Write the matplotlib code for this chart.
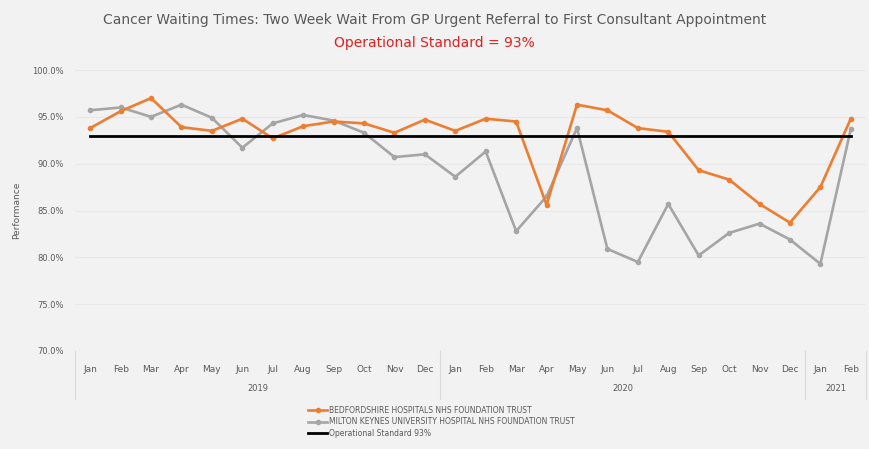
import numpy as np
import matplotlib.pyplot as plt

months = ["Jan", "Feb", "Mar", "Apr", "May", "Jun", "Jul", "Aug", "Sep", "Oct", "Nov", "Dec",
          "Jan", "Feb", "Mar", "Apr", "May", "Jun", "Jul", "Aug", "Sep", "Oct", "Nov", "Dec",
          "Jan", "Feb"]
years = ["2019", "2020", "2021"]
year_spans = [(0, 11), (12, 23), (24, 25)]

bedford = [93.8, 95.6, 97.0, 93.9, 93.5, 94.8, 92.7, 94.0, 94.5, 94.3, 93.3, 94.7,
           93.5, 94.8, 94.5, 85.6, 96.3, 95.7, 93.8, 93.4, 89.3, 88.3, 85.7, 83.7,
           87.5, 94.8]
milton = [95.7, 96.0, 95.0, 96.3, 94.9, 91.7, 94.3, 95.2, 94.6, 93.3, 90.7, 91.0,
          88.6, 91.3, 82.8, 86.5, 93.8, 80.9, 79.5, 85.7, 80.2, 82.6, 83.6, 81.9,
          79.3, 93.7]
standard = 93.0

bg = "#f2f2f2"
fig = plt.figure(figsize=(8.69, 4.49), dpi=100, facecolor=bg)
ax = fig.add_axes([75 / 869, 1 - 351 / 449, 791 / 869, 281 / 449])
ax.set_facecolor(bg)

x = np.arange(len(months))
ax.plot(x, milton, color="#A5A5A5", lw=1.9, marker="o", ms=3, zorder=2,
        label="MILTON KEYNES UNIVERSITY HOSPITAL NHS FOUNDATION TRUST")
ax.plot(x, bedford, color="#ED7D31", lw=1.9, marker="o", ms=3, zorder=3,
        label="BEDFORDSHIRE HOSPITALS NHS FOUNDATION TRUST")
ax.plot(x, [standard] * len(x), color="black", lw=2, zorder=4,
        label="Operational Standard 93%")

ax.set_xlim(-0.5, len(months) - 0.5)
ax.set_ylim(70, 100)
ax.set_yticks(np.arange(70, 101, 5))
ax.set_yticklabels([f"{v:.1f}%" for v in np.arange(70, 101, 5)], fontsize=6, color="#595959")
ax.set_xticks(x)
ax.set_xticklabels(months, fontsize=6.5, color="#595959")
ax.tick_params(length=0, pad=10)
ax.tick_params(axis="y", pad=8)
ax.grid(axis="y", color="#e8e8e8", lw=0.8)
ax.set_axisbelow(True)
for s in ax.spines.values():
    s.set_visible(False)

ax.set_ylabel("Performance", fontsize=6.5, color="#595959", labelpad=8)

# year labels and group separators below the month labels
trans = ax.get_xaxis_transform()
for yr, (a, b) in zip(years, year_spans):
    ax.text((a + b) / 2, -0.135, yr, transform=trans, ha="center", va="center",
            fontsize=6, color="#595959")
for xs in [-0.5, 11.5, 23.5, 25.5]:
    ax.plot([xs, xs], [0, -0.17], transform=trans, color="#d9d9d9", lw=0.8, clip_on=False)

fig.text(0.5, 0.955, "Cancer Waiting Times: Two Week Wait From GP Urgent Referral to First Consultant Appointment",
         ha="center", va="center", fontsize=10, color="#595959")
fig.text(0.5, 0.905, "Operational Standard = 93%", ha="center", va="center",
         fontsize=10, color="#e02020")

# legend order as in the reference: Bedford, Milton Keynes, standard
h, l = ax.get_legend_handles_labels()
order = [1, 0, 2]
leg = fig.legend([h[i] for i in order], [l[i] for i in order], loc="upper left",
                 bbox_to_anchor=(305 / 869, 1 - 403 / 449), frameon=False,
                 fontsize=5.5, handlelength=2.5, labelspacing=0.3, borderaxespad=0,
                 handletextpad=0.3)
for t in leg.get_texts():
    t.set_color("#595959")

fig.savefig("out.png", dpi=100, facecolor=bg)
